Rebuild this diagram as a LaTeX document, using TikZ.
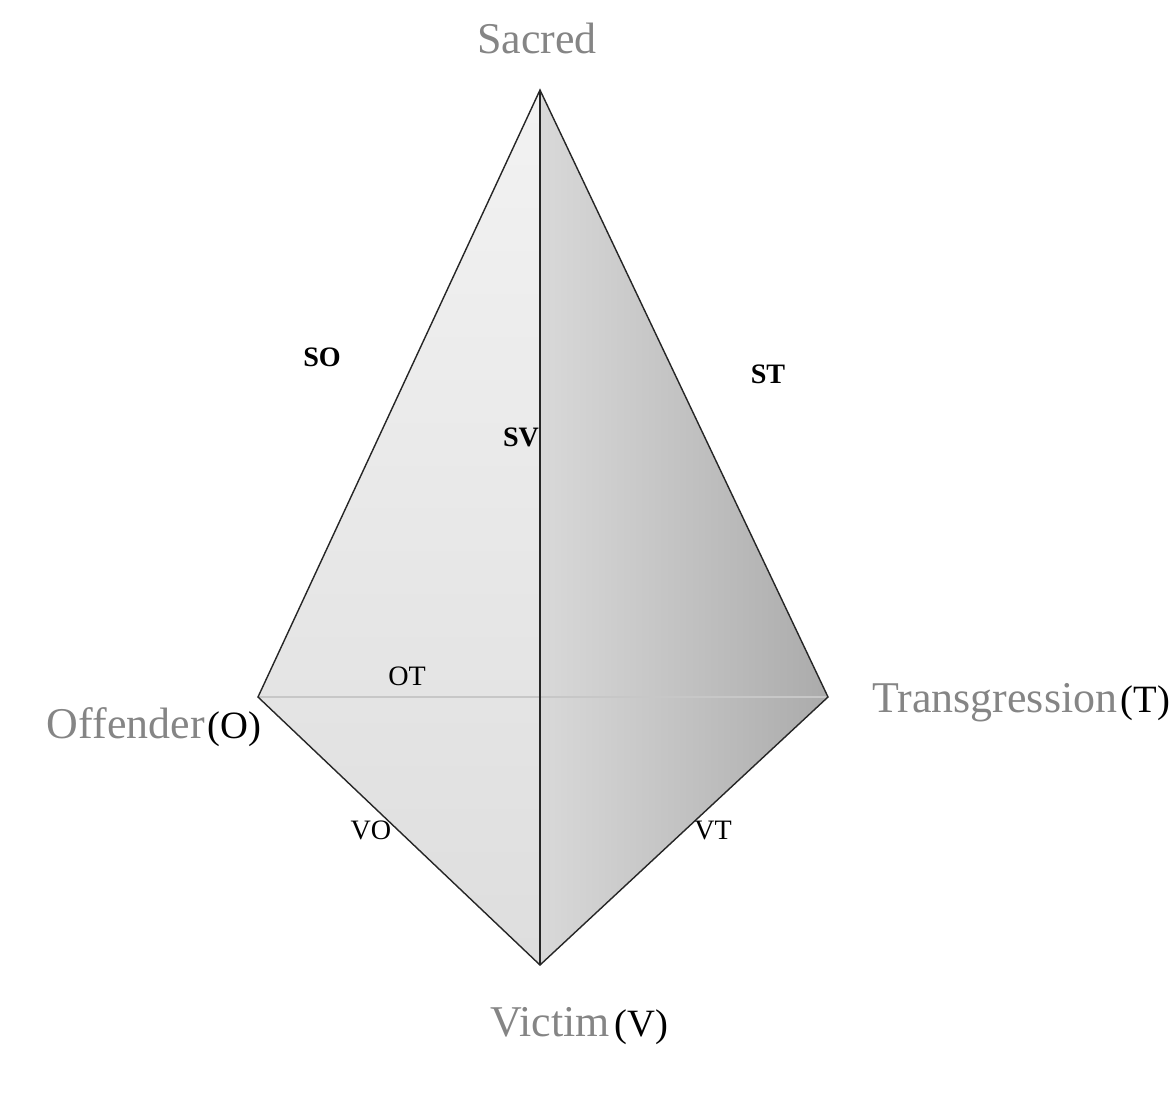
\documentclass[tikz,border=0pt]{standalone}
\usepackage{fontspec}
\setmainfont{Liberation Serif}
\usetikzlibrary{calc}
\usepackage{xcolor}
\definecolor{rotulo}{gray}{0.52}

\tikzset{
    vertice/.style={font=\fontsize{25}{30}\selectfont, text=rotulo, inner sep=0pt},
    sigla/.style={font=\fontsize{22}{26}\selectfont, text=black, inner sep=0pt},
    aresta/.style={font=\fontsize{16}{19}\selectfont, inner sep=0pt},
    borda/.style={line width=0.8pt, black!85},
    oculta/.style={line width=1.6pt, black!22}
}

\begin{document}
\begin{tikzpicture}[x=0.02cm, y=-0.02cm]
        % Moldura (pixels da figura)
        \useasboundingbox (0,0) rectangle (1174,1107);

        % Vertices do tetraedro
        \coordinate (S) at (540,90);
        \coordinate (O) at (258,697);
        \coordinate (T) at (828,697);
        \coordinate (V) at (540,965);

        % Faces
        \shade[top color=black!5, bottom color=black!13] (S) -- (O) -- (V) -- cycle;
        \shade[left color=black!15, middle color=black!27, right color=black!33] (S) -- (V) -- (T) -- cycle;

        % Aresta oculta OT
        \draw[oculta] (O) -- (T);

        % Arestas visiveis
        \draw[borda] (S) -- (O) -- (V) -- (T) -- cycle;
        \draw[borda] (S) -- (V);

        % Rotulos dos vertices
        \node[vertice, anchor=base] (sacred) at (537,53) {Sacred};
        \node[vertice, anchor=base east] (offender) at (205,738) {Offender};
        \node[sigla, anchor=base west] (offsig) at ($(offender.base east)+(2,0)$) {(O)};
        \node[vertice, anchor=base west] (transgression) at (872,712) {Transgression};
        \node[sigla, anchor=base west] (transsig) at ($(transgression.base east)+(3,0)$) {(T)};
        \node[vertice, anchor=base west] (victim) at (490,1036) {Victim};
        \node[sigla, anchor=base west] (victsig) at ($(victim.base east)+(4,0)$) {(V)};

        % Rotulos das arestas
        \node[aresta, font=\fontsize{16}{19}\selectfont\bfseries] (so) at (322,357) {SO};
        \node[aresta, font=\fontsize{16}{19}\selectfont\bfseries] (st) at (768,374) {ST};
        \node[aresta, font=\fontsize{16}{19}\selectfont\bfseries] (sv) at (521,437) {SV};
        \node[aresta] (ot) at (407,676) {OT};
        \node[aresta] (vo) at (371,830) {VO};
        \node[aresta] (vt) at (713,830) {VT};
    \end{tikzpicture}
\end{document}
